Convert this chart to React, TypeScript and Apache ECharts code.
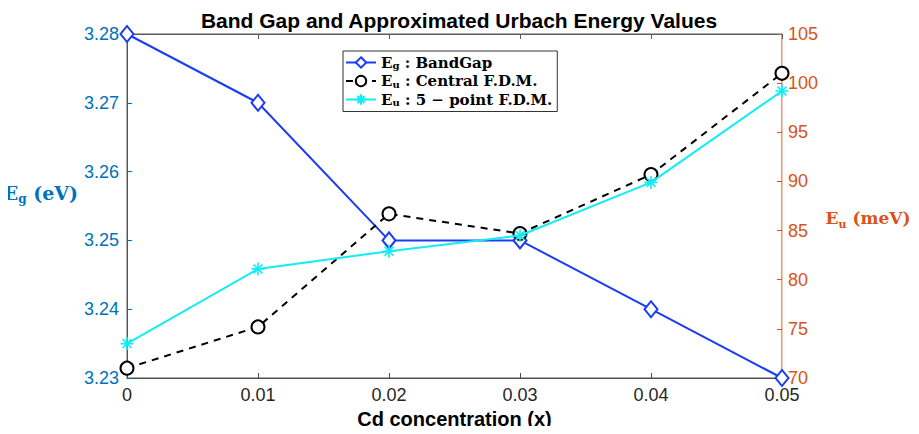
import React, { useEffect, useRef } from "react";
import * as echarts from "echarts";

// Cd concentration (x)
const cdConcentration = [0, 0.01, 0.02, 0.03, 0.04, 0.05];
// Band gap, eV (left axis)
const bandGap = [3.28, 3.27, 3.25, 3.25, 3.24, 3.23];
// Urbach energy, meV (right axis)
const urbachCentral = [71.0, 75.2, 86.7, 84.7, 90.7, 101.0];
const urbachFivePoint = [73.5, 81.1, 82.9, 84.5, 89.9, 99.2];

const xTicks = { min: 0, max: 0.05, interval: 0.01 };
const leftTicks = { min: 3.23, max: 3.28, interval: 0.01 };
const rightTicks = { min: 70, max: 105, interval: 5 };

const BLUE_AXIS = "#0072BD";
const ORANGE_AXIS = "#D95319";
const LINE_BLUE = "#1a3cf7";
const LINE_CYAN = "#12ecf2";
const SANS = "'Liberation Sans', Arial, Helvetica, sans-serif";
const SERIF = "'DejaVu Serif', 'Liberation Serif', serif";

const ASTERISK =
  "path://M5 0L5 10M0 5L10 5M1.6 1.6L8.4 8.4M1.6 8.4L8.4 1.6";

const names = {
  eg: "Eg : BandGap",
  central: "Eu : Central F.D.M.",
  five: "Eu : 5 - point F.D.M.",
};

const legendRich: Record<string, string> = {
  [names.eg]: "{b|E}{s|g}{b| : BandGap}",
  [names.central]: "{b|E}{s|u}{b| : Central F.D.M.}",
  [names.five]: "{b|E}{s|u}{b| : 5 − point F.D.M.}",
};

const zip = (xs: number[], ys: number[]) => xs.map((x, i) => [x, ys[i]]);

const noSplit = {
  splitLine: { show: false },
  minorSplitLine: { show: false },
  splitArea: { show: false },
};

const axisNameRich = (color: string, size: number) => ({
  b: {
    fontFamily: SERIF,
    fontWeight: "bold",
    fontSize: size,
    color,
    lineHeight: 24,
  },
  s: {
    fontFamily: SERIF,
    fontWeight: "bold",
    fontSize: Math.round(size * 0.65),
    color,
    lineHeight: 12,
    verticalAlign: "bottom",
  },
});

export default function App() {
  const ref = useRef<HTMLDivElement>(null);

  useEffect(() => {
    if (!ref.current) return;
    const chart = echarts.init(ref.current, undefined, { renderer: "svg" });

    const xLabel = (v: number) => (v === 0 ? "0" : String(+v.toFixed(2)));

    chart.setOption({
      animation: false,
      backgroundColor: "#ffffff",
      title: {
        text: "Band Gap and Approximated Urbach Energy Values",
        left: 454,
        textAlign: "center",
        top: 5,
        textStyle: {
          fontFamily: SANS,
          fontSize: 21,
          fontWeight: "bold",
          color: "#000",
        },
      },
      grid: {
        left: 127,
        right: 137,
        top: 34,
        bottom: 56,
        show: true,
        borderColor: "#5a5a5a",
        borderWidth: 1,
      },
      legend: {
        orient: "vertical",
        left: 343,
        top: 51,
        itemWidth: 30,
        itemHeight: 13,
        itemGap: 3,
        padding: [4, 5, 4, 2],
        borderColor: "#333",
        borderWidth: 1,
        backgroundColor: "#fff",
        data: [names.eg, names.central, names.five],
        formatter: (n: string) => legendRich[n] ?? n,
        textStyle: {
          rich: {
            b: {
              fontFamily: SERIF,
              fontWeight: "bold",
              fontSize: 15,
              color: "#000",
              lineHeight: 16,
            },
            s: {
              fontFamily: SERIF,
              fontWeight: "bold",
              fontSize: 10,
              color: "#000",
              lineHeight: 9,
              verticalAlign: "bottom",
            },
          },
        },
      },
      xAxis: [
        {
          type: "value",
          ...xTicks,
          position: "bottom",
          name: "Cd concentration (x)",
          nameLocation: "middle",
          nameGap: 40,
          nameTextStyle: {
            fontFamily: SANS,
            fontSize: 20,
            fontWeight: "bold",
            color: "#000",
            verticalAlign: "middle",
          },
          axisLine: { onZero: false, lineStyle: { color: "#4d4d4d", width: 1 } },
          axisTick: { inside: true, length: 5, lineStyle: { color: "#4d4d4d" } },
          axisLabel: {
            formatter: xLabel,
            fontFamily: SANS,
            fontSize: 18,
            color: "#262626",
            margin: 8,
          },
          ...noSplit,
        },
        {
          type: "value",
          ...xTicks,
          position: "top",
          axisLine: { show: true, onZero: false, lineStyle: { color: "#5a5a5a", width: 1 } },
          axisTick: { show: true, inside: true, length: 5, lineStyle: { color: "#5a5a5a" } },
          axisLabel: { show: false },
          ...noSplit,
        },
      ],
      yAxis: [
        {
          type: "value",
          ...leftTicks,
          position: "left",
          name: "{b|E}{s|g}{b| (eV)}",
          nameLocation: "middle",
          nameRotate: 0,
          nameGap: 82,
          nameTextStyle: {
            align: "center",
            verticalAlign: "middle",
            padding: [0, 0, 26, 0],
            rich: axisNameRich(BLUE_AXIS, 19),
          },
          axisLine: { show: true, onZero: false, lineStyle: { color: BLUE_AXIS, width: 1 } },
          axisTick: { show: true, inside: true, length: 5, lineStyle: { color: BLUE_AXIS } },
          axisLabel: {
            formatter: (v: number) => v.toFixed(2),
            fontFamily: SANS,
            fontSize: 18,
            color: BLUE_AXIS,
            margin: 8,
          },
          ...noSplit,
        },
        {
          type: "value",
          ...rightTicks,
          position: "right",
          name: "{b|E}{s|u}{b| (meV)}",
          nameLocation: "middle",
          nameRotate: 0,
          nameGap: 86,
          nameTextStyle: {
            align: "center",
            verticalAlign: "middle",
            padding: [24, 0, 0, 0],
            rich: axisNameRich(ORANGE_AXIS, 17),
          },
          axisLine: { show: true, onZero: false, lineStyle: { color: "#f2c9b6", width: 1 } },
          axisTick: { show: true, inside: true, length: 5, lineStyle: { color: ORANGE_AXIS } },
          axisLabel: {
            fontFamily: SANS,
            fontSize: 18,
            color: ORANGE_AXIS,
            margin: 6,
          },
          ...noSplit,
        },
      ],
      series: [
        {
          name: names.eg,
          type: "line",
          xAxisIndex: 0,
          yAxisIndex: 0,
          data: zip(cdConcentration, bandGap),
          symbol: "emptyDiamond",
          symbolSize: [13, 16],
          lineStyle: { color: LINE_BLUE, width: 2 },
          itemStyle: { color: LINE_BLUE, borderColor: LINE_BLUE, borderWidth: 1.6 },
          z: 2,
        },
        {
          name: names.central,
          type: "line",
          xAxisIndex: 0,
          yAxisIndex: 1,
          data: zip(cdConcentration, urbachCentral),
          symbol: "emptyCircle",
          symbolSize: 13,
          lineStyle: { color: "#000", width: 2, type: [7, 6] },
          itemStyle: { color: "#000", borderColor: "#000", borderWidth: 1.6 },
          z: 3,
        },
        {
          name: names.five,
          type: "line",
          xAxisIndex: 0,
          yAxisIndex: 1,
          data: zip(cdConcentration, urbachFivePoint),
          symbol: ASTERISK,
          symbolSize: 13,
          lineStyle: { color: LINE_CYAN, width: 2 },
          itemStyle: { color: LINE_CYAN, borderColor: LINE_CYAN, borderWidth: 1.6 },
          z: 4,
        },
      ],
    });

    return () => chart.dispose();
  }, []);

  return <div ref={ref} style={{ width: 919, height: 434, margin: -8 }} />;
}
